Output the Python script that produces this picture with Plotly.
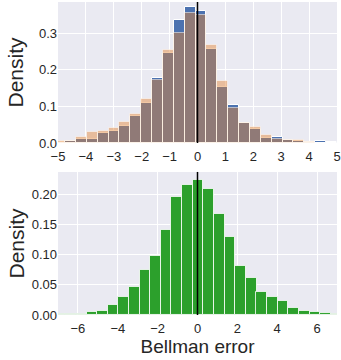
import plotly.graph_objects as go

# top panel: two overlaid histograms (density), bins
top_edges = [-5.14, -4.75, -4.36, -3.97, -3.58, -3.19, -2.80, -2.41, -2.02, -1.63,
             -1.24, -0.85, -0.46, -0.07, 0.32, 0.71, 1.10, 1.49, 1.88, 2.27,
             2.66, 3.05, 3.44, 3.83, 4.22, 4.61]
top_width = 0.39
blue_density = [0.004, 0.005, 0.010, 0.010, 0.026, 0.033, 0.047, 0.074, 0.109, 0.177,
                0.245, 0.335, 0.370, 0.360, 0.256, 0.153, 0.104, 0.054, 0.037, 0.013,
                0.017, 0.007, 0.006, 0.004, 0.005, 0.003]
orange_density = [0.005, 0.006, 0.017, 0.029, 0.033, 0.040, 0.058, 0.078, 0.120, 0.172,
                  0.253, 0.300, 0.354, 0.350, 0.267, 0.170, 0.095, 0.056, 0.044, 0.022,
                  0.012, 0.007, 0.007, 0.003, 0.0, 0.0]

# bottom panel: single green histogram
bot_edges = [-7.17, -6.64, -6.10, -5.57, -5.04, -4.51, -3.97, -3.44, -2.91, -2.37,
             -1.84, -1.31, -0.77, -0.24, 0.29, 0.83, 1.36, 1.89, 2.43, 2.96,
             3.49, 4.03, 4.56, 5.09, 5.63, 6.16, 6.69]
bot_width = 0.533
green_density = [0.0025, 0.001, 0.001, 0.005, 0.006, 0.017, 0.030, 0.046, 0.074, 0.098,
                 0.141, 0.195, 0.216, 0.224, 0.209, 0.168, 0.129, 0.082, 0.061, 0.039,
                 0.030, 0.023, 0.012, 0.006, 0.005, 0.003, 0.002]

top_ticks = [-5, -4, -3, -2, -1, 0, 1, 2, 3, 4, 5]
bot_ticks = [-6, -4, -2, 0, 2, 4, 6]


def centers(edges, w):
    return [e + w / 2 for e in edges]


FONT = "Liberation Sans, Arial, sans-serif"
TXT = "#262626"
BG = "#EAEAF2"
TOP_DOM = [0.5495, 1]
BOT_DOM = [0, 0.457]

fig = go.Figure()
fig.add_trace(go.Bar(x=centers(top_edges, top_width), y=blue_density, width=top_width,
                     marker=dict(color="#4C72B0", line=dict(color="white", width=1)),
                     xaxis="x", yaxis="y"))
fig.add_trace(go.Bar(x=centers(top_edges, top_width), y=orange_density, width=top_width,
                     marker=dict(color="rgba(228,132,52,0.45)",
                                 line=dict(color="rgba(255,255,255,0.5)", width=1)),
                     xaxis="x", yaxis="y"))
fig.add_trace(go.Bar(x=centers(bot_edges, bot_width), y=green_density, width=bot_width,
                     marker=dict(color="#2CA02C", line=dict(color="rgba(255,255,255,0.8)", width=1)),
                     xaxis="x2", yaxis="y2"))

axis_common = dict(showgrid=True, gridcolor="white", gridwidth=1, zeroline=False,
                   showline=False, ticks="", automargin=False,
                   tickfont=dict(family=FONT, size=13, color=TXT))

fig.update_layout(
    width=341, height=360,
    margin=dict(l=58, r=4, t=2, b=45),
    paper_bgcolor="white", plot_bgcolor=BG,
    barmode="overlay", bargap=0, showlegend=False,
    font=dict(family=FONT, color=TXT),
    xaxis=dict(axis_common, range=[-5, 5], tickvals=top_ticks, anchor="y",
               domain=[0, 1], ticklabelstandoff=4),
    yaxis=dict(axis_common, range=[0, 0.385], tickvals=[0, 0.1, 0.2, 0.3],
               tickformat=".1f", domain=TOP_DOM, anchor="x"),
    xaxis2=dict(axis_common, range=[-7, 7], tickvals=bot_ticks, anchor="y2",
                domain=[0, 1], ticklabelstandoff=4,
                title=dict(text="Bellman error", font=dict(size=19, color=TXT), standoff=4)),
    yaxis2=dict(axis_common, range=[0, 0.237], tickvals=[0, 0.05, 0.1, 0.15, 0.2],
                tickformat=".2f", domain=BOT_DOM, anchor="x2"),
    shapes=[
        dict(type="line", xref="x", yref="y domain", x0=0, x1=0, y0=0, y1=1,
             line=dict(color="black", width=1.5)),
        dict(type="line", xref="x2", yref="y2 domain", x0=0, x1=0, y0=0, y1=1,
             line=dict(color="black", width=1.5)),
    ],
)

# y titles placed by hand so they sit where the reference has them
for dom in (TOP_DOM, BOT_DOM):
    fig.add_annotation(text="Density", xref="paper", yref="paper", x=0,
                       y=(dom[0] + dom[1]) / 2, xanchor="center", yanchor="middle",
                       xshift=-42, textangle=-90, showarrow=False,
                       font=dict(family=FONT, size=21, color=TXT))

# drop the page's default body margin so the figure sits at the window corner
fig.write_html("out.html", config={"displayModeBar": False},
               post_script="document.body.style.margin='0';")
